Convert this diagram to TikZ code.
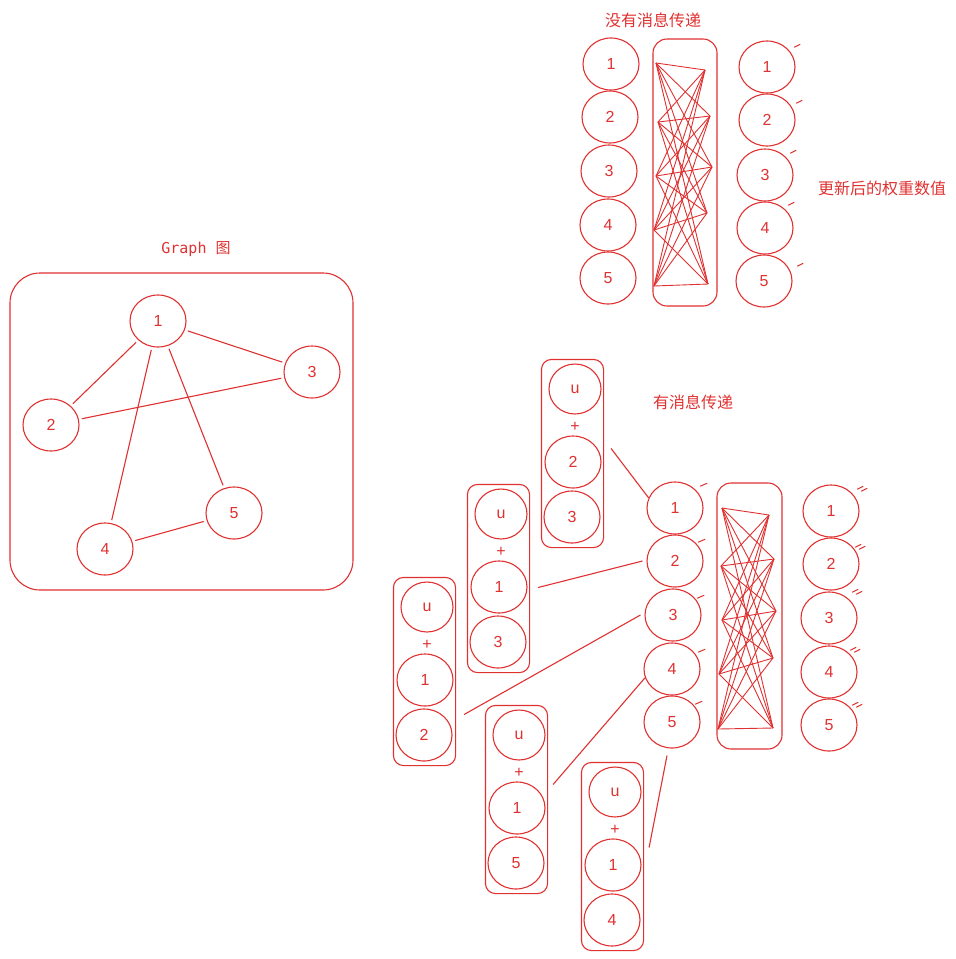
\documentclass[tikz,border=0pt]{standalone}
\usepackage{fontspec}
\setmainfont{Liberation Sans}
\newfontfamily\cjkfont{Noto Sans CJK SC}
\newfontfamily\codefont{DejaVu Sans Mono}
\usetikzlibrary{shapes.geometric,fit}
\definecolor{exred}{HTML}{E03131}
\tikzset{%
  ell/.style      = {ellipse, draw, inner sep=0pt,%
                     minimum width=56pt, minimum height=52pt},%
  uell/.style     = {ell, minimum width=52pt, minimum height=50pt},%
  stackbox/.style = {draw, rounded corners=10pt, inner xsep=2pt, inner ysep=4pt},%
  layerbox/.style = {draw, rounded corners=14pt},%
  wire/.style     = {line width=0.9pt},%
  tick/.style     = {line width=1pt},%
  cjk/.style      = {font=\cjkfont\fontsize{16}{19}\selectfont}%
}
\begin{document}
\begin{tikzpicture}[x=1pt,y=-1pt,color=exred,line width=1.1pt,
  every node/.style={font=\fontsize{16}{19}\selectfont}]%
\path[use as bounding box,fill=white] (0,0) rectangle (956,959);
% graph
\node at (196,249) [font=\codefont\fontsize{15}{18}\selectfont] {Graph \cjkfont 图};
\node (graphbox) at (181.5,431.5) [draw, rounded corners=30pt,%
  minimum width=343pt, minimum height=317pt] {};
\foreach \i/\x/\y in {1/158/321, 2/51/425, 3/312/372, 4/105/549, 5/234/513}
  \node (g\i) at (\x,\y) [ell] {\i};
\foreach \a/\b in {1/2, 1/3, 2/3, 1/4, 1/5, 4/5}
  \draw [shorten <=3pt, shorten >=3pt] (g\a) -- (g\b);
% without message passing
\node at (653,20) [cjk] {没有消息传递};
\foreach \i/\x/\y in {1/611/64, 2/610/117, 3/609/171, 4/608/225, 5/608/278}
  \node (a\i) at (\x,\y) [ell] {\i};
\node (toplayer) at (685,172.5) [layerbox, minimum width=64pt, minimum height=267pt] {};
\foreach \i/\x/\y in {1/656/63, 2/658/122, 3/656/176, 4/654/230, 5/654/286}
  \coordinate (tl\i) at (\x,\y);
\foreach \i/\x/\y in {1/705/70, 2/710/116, 3/712/167, 4/707/213, 5/708/284}
  \coordinate (tr\i) at (\x,\y);
\foreach \i in {1,...,5}
  \foreach \j in {1,...,5}
    \draw [wire] (tl\i) -- (tr\j);
\foreach \i/\x/\y/\dx/\dy in {1/767/67/7/-1, 2/767/120/9/2, 3/765/175/5/-3,%
    4/765/228/3/-4, 5/764/281/13/4}{
  \node (b\i) at (\x,\y) [ell] {\i};
  \draw [tick] ([shift={(\dx,\dy)}]b\i.north east) -- ++(6,-3);
}
\node at (882,188) [cjk] {更新后的权重数值};
% with message passing
\node at (693,402) [cjk] {有消息传递};
\foreach \i/\x/\y/\dx/\dy in {1/675/508/5/-3, 2/675/561/3/0, 3/673/615/4/2,%
    4/672/669/6/2, 5/672/722/3/1}{
  \node (m\i) at (\x,\y) [ell] {\i};
  \draw [tick] ([shift={(\dx,\dy)}]m\i.north east) -- ++(7,-3);
}
\node (botlayer) at (749.5,616) [layerbox, minimum width=65pt, minimum height=266pt] {};
\foreach \i/\x/\y in {1/722/508, 2/721/566, 3/722/620, 4/719/674, 5/718/729}
  \coordinate (bl\i) at (\x,\y);
\foreach \i/\x/\y in {1/769/515, 2/774/559, 3/776/611, 4/773/658, 5/773/728}
  \coordinate (br\i) at (\x,\y);
\foreach \i in {1,...,5}
  \foreach \j in {1,...,5}
    \draw [wire] (bl\i) -- (br\j);
\foreach \i/\x/\y/\dx/\dy in {1/831/511/6/-3, 2/831/564/4/2, 3/829/618/3/-7,%
    4/829/672/1/-3, 5/829/725/3/-1}{
  \node (c\i) at (\x,\y) [ell] {\i};
  \draw [tick] ([shift={(\dx,\dy)}]c\i.north east) -- ++(6,-3) ++(-2,5) -- ++(6,-3);
}
% stacks u + neighbours
\foreach \n/\x/\y/\p/\q in {A/575/389/2/3, B/501/514/1/3, C/427/607/1/2,%
    D/519/735/1/5, E/615/792/1/4}{
  \node (\n-u) at (\x,\y) [uell] {u};
  \node (\n-plus) at (\x,\y+38) {+};
  \node (\n-p) at (\x-2,\y+73) [ell] {\p};
  \node (\n-q) at (\x-3,\y+128) [ell] {\q};
  \node (\n) [stackbox, fit=(\n-u)(\n-p)(\n-q)] {};
}
\draw ([shift={(7,-5)}]A.east) -- (m1.159);
\draw ([shift={(8,9)}]B.east) -- ([shift={(-4,0)}]m2.west);
\draw ([shift={(8,43)}]C.east) -- ([shift={(-4,0)}]m3.west);
\draw ([shift={(5,-15)}]D.east) -- (m4.198);
\draw ([shift={(5,-9)}]E.east) -- ([shift={(-5,7)}]m5.south);
\end{tikzpicture}
\end{document}
